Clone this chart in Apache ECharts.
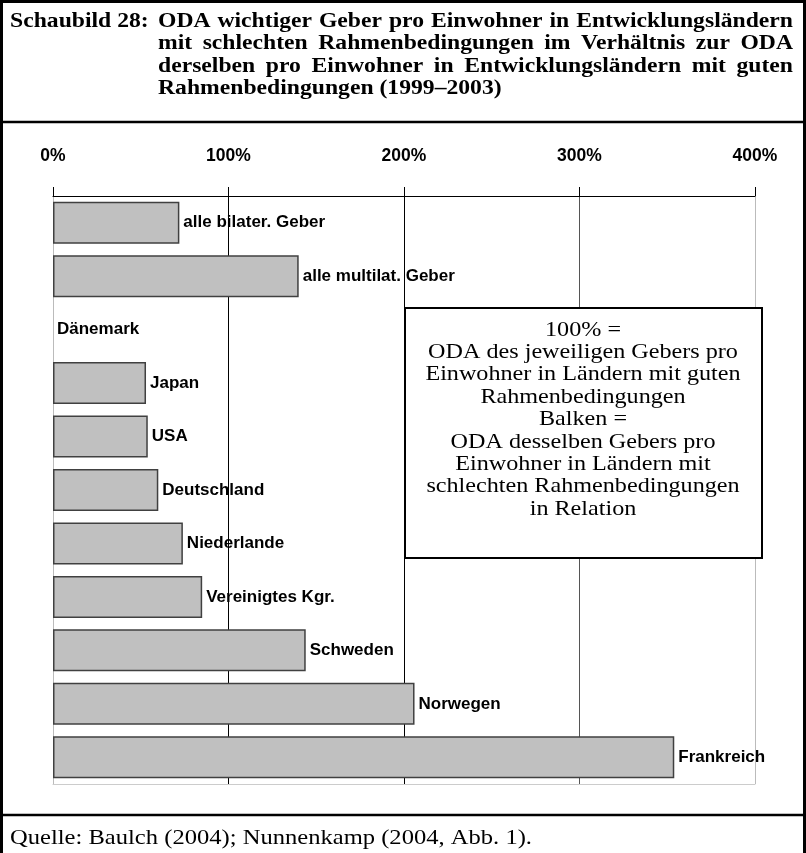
<!DOCTYPE html>
<html>
<head>
<meta charset="utf-8">
<script src="https://cdn.jsdelivr.net/npm/echarts@6/dist/echarts.min.js"></script>
<style>
  html, body { margin: 0; padding: 0; background: #fff; }
  #main { width: 806px; height: 853px; }
</style>
</head>
<body>
<div id="main"></div>
<script>
// data
const categories = ['alle bilater. Geber', 'alle multilat. Geber', 'Dänemark', 'Japan', 'USA',
  'Deutschland', 'Niederlande', 'Vereinigtes Kgr.', 'Schweden', 'Norwegen', 'Frankreich'];
const values = [72, 140, 0, 53, 54, 60, 74, 85, 144, 206, 354];

const titleHead = 'Schaubild 28:';
const titleLines = [
  'ODA wichtiger Geber pro Einwohner in Entwicklungsländern',
  'mit schlechten Rahmenbedingungen im Verhältnis zur ODA',
  'derselben pro Einwohner in Entwicklungsländern mit guten',
  'Rahmenbedingungen (1999–2003)'
];
const noteLines = [
  '100% =',
  'ODA des jeweiligen Gebers pro',
  'Einwohner in Ländern mit guten',
  'Rahmenbedingungen',
  'Balken =',
  'ODA desselben Gebers pro',
  'Einwohner in Ländern mit',
  'schlechten Rahmenbedingungen',
  'in Relation'
];
const sourceText = 'Quelle: Baulch (2004); Nunnenkamp (2004, Abb. 1).';

const serif = '"Liberation Serif", "Times New Roman", serif';
const sans = '"Liberation Sans", Arial, sans-serif';

const chart = echarts.init(document.getElementById('main'));

// the scanned text is wider than it is tall, so serif text gets a horizontal stretch
const ctx = document.createElement('canvas').getContext('2d');
function justified(line, x0, x1, y, font, sx, stretch) {
  ctx.font = font;
  const words = line.split(' ');
  const w = words.map(s => ctx.measureText(s).width * sx);
  const total = w.reduce((a, b) => a + b, 0);
  const gap = stretch ? (x1 - x0 - total) / (words.length - 1) : ctx.measureText(' ').width * sx;
  let x = x0;
  return words.map((s, i) => {
    const el = {
      type: 'text', x: x, y: y, scaleX: sx, z: 10,
      style: { text: s, font: font, fill: '#000', textVerticalAlign: 'middle' }
    };
    x += w[i] + gap;
    return el;
  });
}

const titleFont = 'bold 21.5px ' + serif;
const titleSx = 1.1;
let titleEls = [{
  type: 'text', x: 10, y: 21, scaleX: titleSx, z: 10,
  style: { text: titleHead, font: titleFont, fill: '#000', textVerticalAlign: 'middle' }
}];
titleLines.forEach((l, i) => {
  titleEls = titleEls.concat(justified(l, 158, 793, 21 + i * 22.5, titleFont, titleSx, i < titleLines.length - 1));
});

const noteEls = noteLines.map((l, i) => ({
  type: 'text', x: 583, y: 330 + i * 22.4, scaleX: 1.15, z: 101,
  style: { text: l, font: '21px ' + serif, fill: '#000', textAlign: 'center', textVerticalAlign: 'middle' }
}));

chart.setOption({
  animation: false,
  backgroundColor: '#fff',
  grid: { left: 53, right: 51, top: 196, height: 588 },
  xAxis: [{
    type: 'value', position: 'top', min: 0, max: 400, interval: 100,
    axisLine: { show: true, lineStyle: { color: '#000', width: 1 } },
    axisTick: { show: true, length: 9, lineStyle: { color: '#000' } },
    axisLabel: {
      formatter: '{value}%', margin: 31, color: '#000',
      fontFamily: sans, fontWeight: 'bold', fontSize: 17.5
    },
    splitLine: { show: true, lineStyle: { color: ['#bbb', '#000', '#000', '#555', '#bbb'], width: 1 } }
  }, {
    type: 'value', position: 'bottom', min: 0, max: 400, interval: 100,
    axisLine: { show: true, lineStyle: { color: '#ccc' } },
    axisTick: { show: false }, axisLabel: { show: false }, splitLine: { show: false }
  }],
  yAxis: {
    type: 'category', data: categories, inverse: true,
    axisLine: { show: false }, axisTick: { show: false }, axisLabel: { show: false }
  },
  series: [{
    type: 'bar',
    data: values.map(v => v === 0 ? { value: v, itemStyle: { borderWidth: 0 } } : v),
    barWidth: 42,
    itemStyle: { color: '#c0c0c0', borderColor: '#404040', borderWidth: 1.5 },
    label: {
      show: true, position: 'right', distance: 4,
      formatter: p => categories[p.dataIndex],
      color: '#000', fontFamily: sans, fontWeight: 'bold', fontSize: 17
    }
  }],
  graphic: [
    { type: 'rect', shape: { x: 405, y: 308, width: 357, height: 250 }, z: 100,
      style: { fill: '#fff', stroke: '#000', lineWidth: 2 } },
    { type: 'group', children: noteEls },
    { type: 'group', children: titleEls },
    { type: 'rect', shape: { x: 1.5, y: 1.5, width: 803, height: 870 }, z: 100,
      style: { fill: 'none', stroke: '#000', lineWidth: 3 } },
    { type: 'line', shape: { x1: 0, y1: 122, x2: 806, y2: 122 }, z: 100,
      style: { stroke: '#000', lineWidth: 2.5 } },
    { type: 'line', shape: { x1: 0, y1: 815, x2: 806, y2: 815 }, z: 100,
      style: { stroke: '#000', lineWidth: 2.5 } },
    { type: 'text', x: 10, y: 838, scaleX: 1.17, z: 10,
      style: { text: sourceText, font: '21px ' + serif, fill: '#000', textVerticalAlign: 'middle' } }
  ]
});
</script>
</body>
</html>
